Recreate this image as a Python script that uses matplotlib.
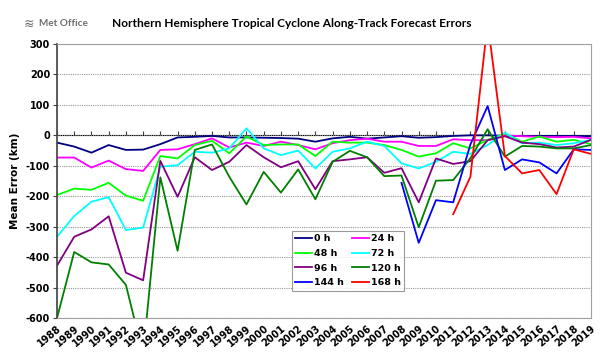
import matplotlib
matplotlib.use("Agg")
import matplotlib.pyplot as plt
import numpy as np

years = list(range(1988, 2020))

h0 = [-24, -37, -57, -32, -48, -47, -29, -7, -5, -2, -7, -7, -8, -9, -11, -21, -10, -5, -11, -7, -3, -8, -6, -2, 0, 0, -2, -2, -2, -2, -2, -3]
h24 = [-73, -73, -106, -83, -111, -117, -48, -46, -29, -10, -40, -24, -35, -21, -32, -46, -26, -16, -11, -21, -21, -35, -35, -13, -16, -16, 0, -3, -5, -6, -5, -10]
h48 = [-196, -175, -179, -156, -198, -215, -68, -76, -32, -18, -59, -4, -32, -30, -30, -68, -21, -24, -24, -32, -48, -70, -59, -26, -43, -15, 6, -21, -4, -21, -15, -29]
h72 = [-333, -265, -218, -203, -311, -303, -103, -98, -54, -57, -43, 23, -43, -65, -50, -109, -54, -43, -21, -35, -92, -109, -87, -54, -61, -32, 9, -26, -24, -32, -26, -15]
h96 = [-428, -333, -309, -266, -451, -476, -84, -202, -72, -114, -87, -32, -72, -105, -85, -177, -85, -79, -72, -123, -108, -220, -76, -94, -85, -16, -3, -24, -29, -40, -37, -15]
h120 = [-600, -383, -417, -424, -491, -720, -138, -379, -48, -30, -136, -227, -120, -188, -112, -210, -87, -51, -72, -134, -132, -302, -149, -147, -75, 20, -70, -35, -37, -43, -43, -32]
h144 = [None] * 20 + [-156, -353, -213, -220, -30, 96, -114, -79, -89, -125, -46, -48]
h168 = [None] * 23 + [-259, -136, 370, -68, -125, -114, -193, -46, -61]

series = [
    ("0 h", h0, "#000080"),
    ("24 h", h24, "#FF00FF"),
    ("48 h", h48, "#00FF00"),
    ("72 h", h72, "#00FFFF"),
    ("96 h", h96, "#800080"),
    ("120 h", h120, "#008000"),
    ("144 h", h144, "#0000FF"),
    ("168 h", h168, "#FF0000"),
]

fig = plt.figure(figsize=(6, 3.57), dpi=100)
ax = fig.add_axes([0.095, 0.109, 0.89, 0.768])

lines = {}
for name, vals, col in series:
    v = np.array([np.nan if x is None else x for x in vals], dtype=float)
    ln, = ax.plot(years, v, color=col, lw=1.3, label=name)
    lines[name] = ln

ax.set_xlim(1988, 2019)
ax.set_ylim(-600, 300)
ax.set_yticks(range(-600, 301, 100))
ax.set_yticklabels([str(v) for v in range(-600, 301, 100)], fontsize=7, fontweight="bold")
ax.yaxis.grid(True, color="#999999", ls=(0, (1, 1)), lw=0.8)
ax.set_axisbelow(True)

ax.set_xticks(years)
ax.set_xticklabels([str(y) for y in years], rotation=40, ha="right",
                   rotation_mode="anchor", fontsize=7, fontweight="bold")
ax.tick_params(axis="x", length=0, pad=4)
ax.tick_params(axis="y", length=3, color="#404040", direction="out", pad=2)

for s in ["top", "right", "bottom"]:
    ax.spines[s].set_color("#a0a0a0")
ax.spines["left"].set_color("#404040")
ax.spines["left"].set_linewidth(1.2)

# zero axis line with tick marks
sec = ax.secondary_xaxis(2/3)
sec.set_xticks(years)
sec.set_xticklabels([])
sec.tick_params(length=3, color="#404040", direction="out")
sec.spines["bottom"].set_color("#404040")
sec.spines["bottom"].set_linewidth(1.2)

ax.set_ylabel("Mean Error (km)", fontsize=7.5, fontweight="bold", labelpad=4)

order = ["0 h", "48 h", "96 h", "144 h", "24 h", "72 h", "120 h", "168 h"]
leg = ax.legend([lines[n] for n in order], order, ncol=2,
                loc="upper left", bbox_to_anchor=(0.4395, 0.318),
                prop={"weight": "bold", "size": 6.8}, frameon=True,
                fancybox=False, edgecolor="#808080", handlelength=1.8,
                handletextpad=0.2, columnspacing=0.9, labelspacing=0.6,
                borderpad=0.35, borderaxespad=0)
leg.get_frame().set_linewidth(0.8)

fig.text(0.486, 0.933, "Northern Hemisphere Tropical Cyclone Along-Track Forecast Errors",
         ha="center", va="center", fontsize=8.6, fontweight="bold", family="Lato")
fig.text(0.04, 0.933, "\u224b", ha="left", va="center", fontsize=9, color="#707070")
fig.text(0.065, 0.933, "Met Office", ha="left", va="center", fontsize=7.2,
         color="#707070", family="Lato", fontweight="bold")

fig.savefig("out.png", dpi=100)
